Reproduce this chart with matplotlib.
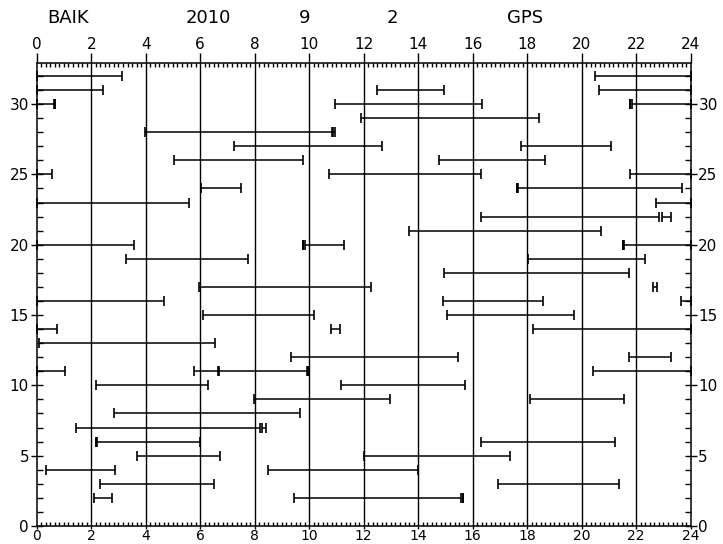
import matplotlib
matplotlib.use("Agg")
import matplotlib.pyplot as plt
import numpy as np

# header words
title_words = ["BAIK", "2010", "9", "2", "GPS"]
title_x = [68, 208, 305, 392, 525]  # pixel centres

# visibility passes: PRN, start hour, end hour
prn = [32, 32,
       31, 31, 31,
       30, 30, 30, 30, 30,
       29,
       28, 28,
       27, 27,
       26, 26,
       25, 25, 25,
       24, 24, 24,
       23, 23,
       22, 22,
       21,
       20, 20, 20, 20, 20,
       19, 19,
       18,
       17, 17,
       16, 16, 16,
       15, 15,
       14, 14, 14,
       13,
       12, 12,
       11, 11, 11, 11, 11,
       10, 10,
       9, 9,
       8,
       7, 7,
       6, 6, 6,
       5, 5,
       4, 4,
       3, 3,
       2, 2, 2]
start = [0.0, 20.47,
         0.0, 12.49, 20.62,
         0.0, 0.66, 10.93, 21.78, 21.84,
         11.91,
         3.99, 10.88,
         7.23, 17.78,
         5.05, 14.77,
         0.0, 10.72, 21.78,
         6.03, 17.61, 17.65,
         0.0, 22.73,
         16.29, 22.93,
         13.67,
         0.0, 9.77, 9.83, 21.50, 21.57,
         3.28, 18.03,
         14.96,
         5.95, 22.60,
         0.0, 14.92, 23.64,
         6.12, 15.04,
         0.0, 10.80, 18.22,
         0.10,
         9.35, 21.72,
         0.0, 5.78, 6.70, 9.96, 20.43,
         2.18, 11.15,
         7.99, 18.10,
         2.84,
         1.44, 8.26,
         2.18, 2.22, 16.29,
         3.67, 12.00,
         0.34, 8.47,
         2.33, 16.92,
         2.11, 9.43, 15.65]
end = [3.13, 24.0,
       2.45, 14.96, 24.0,
       0.62, 0.66, 16.33, 21.78, 24.0,
       18.44,
       10.84, 10.95,
       12.68, 21.06,
       9.79, 18.64,
       0.56, 16.29, 24.0,
       7.49, 17.61, 23.69,
       5.58, 24.0,
       22.82, 23.26,
       20.70,
       3.57, 9.77, 11.27, 21.50, 24.0,
       7.76, 22.34,
       21.75,
       12.27, 22.78,
       4.66, 18.57, 24.0,
       10.17, 19.72,
       0.73, 11.14, 24.0,
       6.56,
       15.45, 23.26,
       1.03, 6.66, 9.93, 9.96, 24.0,
       6.30, 15.70,
       12.98, 21.55,
       9.67,
       8.20, 8.42,
       2.18, 6.00, 21.23,
       6.73, 17.36,
       2.89, 13.98,
       6.51, 21.36,
       2.77, 15.57, 15.65]

hour_ticks = list(range(0, 25, 2))
prn_ticks = list(range(0, 31, 5))

W, H = 723, 544
fig = plt.figure(figsize=(W / 100, H / 100), dpi=100)
ax = fig.add_axes([36.7 / W, 1 - 526 / H, (690.7 - 36.7) / W, (526 - 63.3) / H])

for x in hour_ticks[1:-1]:
    ax.axvline(x, color="black", lw=1.0, zorder=1)

for p, s, e in zip(prn, start, end):
    ax.plot([s, e], [p, p], color="black", lw=1.1, marker="|", ms=7, mew=1.2,
            solid_capstyle="butt", zorder=3, clip_on=False)

ax.set_xlim(0, 24)
ax.set_ylim(0, 32.9)
ax.set_xticks(hour_ticks)
ax.set_xticks(np.arange(0, 24.01, 1 / 6), minor=True)
ax.set_yticks(prn_ticks)
ax.set_yticks(range(0, 33), minor=True)

ax.tick_params(axis="x", which="major", direction="out", length=7, width=1,
               top=True, labeltop=True, bottom=False, labelbottom=False, labelsize=11, pad=1)
ax.tick_params(axis="x", which="minor", direction="in", length=3, width=1,
               top=True, bottom=True)
ax.tick_params(axis="y", which="major", direction="inout", length=9, width=1,
               left=True, right=True, labelleft=True, labelright=True, labelsize=11, pad=1)
ax.tick_params(axis="y", which="minor", direction="in", length=4, width=1,
               left=True, right=True)

# bottom hour labels sit tight under the axis
sec = ax.secondary_xaxis("bottom")
sec.set_xticks(hour_ticks)
sec.tick_params(direction="out", length=2, width=1, labelsize=10, pad=0)
sec.spines["bottom"].set_visible(False)

for sp in ax.spines.values():
    sp.set_linewidth(1.1)

for word, x in zip(title_words, title_x):
    fig.text(x / W, 1 - 18 / H, word, ha="center", va="center", fontsize=13)

fig.savefig("out.png", dpi=100)
